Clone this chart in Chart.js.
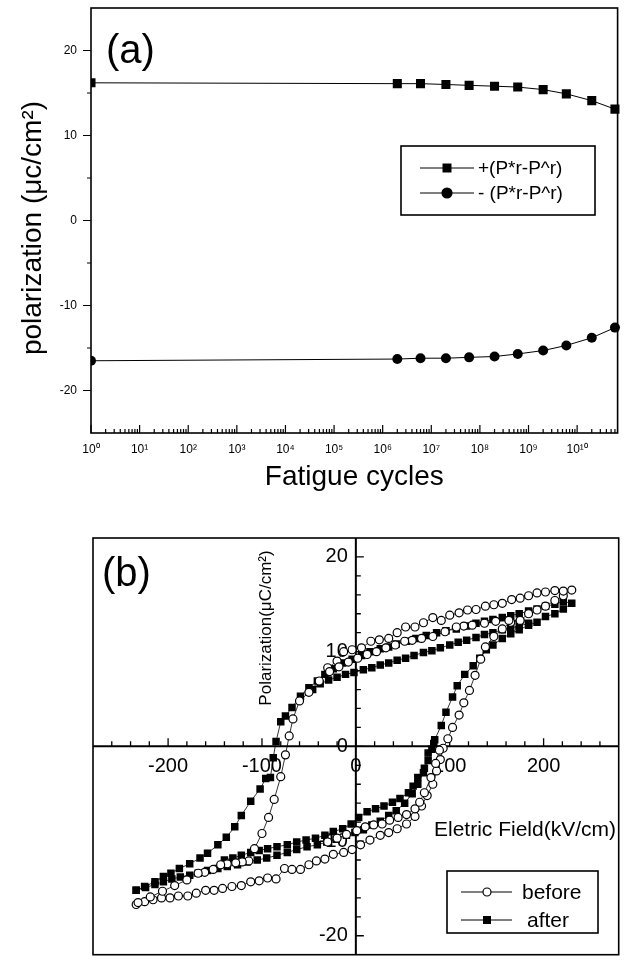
<!DOCTYPE html>
<html><head><meta charset="utf-8">
<script src="https://cdn.jsdelivr.net/npm/chart.js@4.4.1/dist/chart.umd.min.js"></script>
<style>
html,body{margin:0;padding:0;background:#fff;}
#wrap{position:relative;width:624px;height:960px;overflow:hidden;background:#fff;}
canvas{position:absolute;left:0;}
#ca{top:0;} #cb{top:500px;}
</style></head><body>
<div id="wrap"><canvas id="ca" width="624" height="500"></canvas><canvas id="cb" width="624" height="460"></canvas></div>
<script>
const FONT = "'Liberation Sans', Arial, Helvetica, sans-serif";

// ---------- (a) fatigue data ----------
const fatigueCycles = [1, 2e6, 6e6, 2e7, 6e7, 2e8, 6e8, 2e9, 6e9, 2e10, 6e10];
const plusPr  = [16.2, 16.1, 16.1, 16.0, 15.9, 15.8, 15.7, 15.4, 14.9, 14.1, 13.1];
const minusPr = [-16.5, -16.3, -16.2, -16.2, -16.1, -16.0, -15.7, -15.3, -14.7, -13.8, -12.6];
const fatigueTicks = [1, 1e1, 1e2, 1e3, 1e4, 1e5, 1e6, 1e7, 1e8, 1e9, 1e10];
const polTicksA = [-20, -10, 0, 10, 20];
const polMinorA = [-15, -5, 5, 15];
const labelsA = ['+(P*r-P^r)', '- (P*r-P^r)'];

// ---------- (b) hysteresis data (null = break between traces) ----------
const beforeField = [
 -234,-225,-216,-207,-198,-189,-179,-170,-160,-151,-142,-132,-122,-112,-103,-94,-85,-76,-68,-59,
 -50,-42,-33,-24,-13,-4,5,15,26,35,44,54,63,70,76,82,86,90,93,98,
 103,110,115,121,127,133,138,147,156,165,175,184,193,202,212,221,230,
 221,212,202,193,184,175,166,156,147,138,128,119,110,100,91,82,72,63,53,44,
 35,25,16,6,-4,-13,-20,-30,-39,-50,-60,-67,-71,-75,-80,-87,-93,-100,-108,-114,
 -121,-128,-137,-144,-152,-161,-168,-180,-193,-206,-219,-232,
 null,
 -30,-20,-10,1,10,19,28,36,45,54,63,68,73,80,85,89,
 null,
 175,163,149,137,124,115,107,95,82,70,60,52,42,32,22,12,2,-8,-18,-28
];
const beforePol = [
 -16.7,-16.4,-16.2,-16.0,-16.0,-15.8,-15.8,-15.5,-15.2,-15.2,-15.0,-14.8,-14.7,-14.3,-14.2,-13.9,-14.0,-12.9,-13.0,-13.0,
 -12.5,-12.1,-11.9,-11.4,-11.2,-10.9,-10.4,-9.9,-9.4,-9.1,-8.7,-8.2,-7.4,-6.3,-5.2,-4.0,-2.6,-1.4,-0.2,0.8,
 2.0,3.3,4.6,5.9,7.5,9.2,10.5,11.6,12.4,13.1,13.3,14.0,14.4,14.8,15.4,15.9,16.5,
 16.4,16.45,16.3,16.2,15.9,15.65,15.5,15.1,14.95,14.8,14.45,14.4,14.1,13.85,13.3,13.6,13.05,12.6,12.6,12.0,
 11.4,11.25,11.1,10.4,10.2,10.0,9.0,8.3,6.9,5.7,4.8,2.9,1.1,-0.9,-3.2,-5.6,-7.5,-9.2,-10.8,-12.1,
 -12.2,-12.3,-12.4,-12.5,-13.0,-13.3,-13.4,-14.1,-14.7,-15.3,-15.9,-16.5,
 null,
 -10.1,-9.7,-9.3,-8.9,-8.5,-8.3,-8.2,-7.8,-7.5,-7.2,-6.6,-5.9,-4.9,-3.3,-1.8,-0.4,
 null,
 13.3,13.3,13.2,13.0,12.8,12.7,12.6,12.1,11.6,11.4,11.2,11.1,10.7,10.4,10.0,9.7,9.3,8.9,8.4,7.9
];
const afterField = [
 -234,-224,-214,-205,-196,-187,-177,-168,-158,-147,-137,-126,-116,-105,-95,-84,-73,-63,-52,-41,
 -31,-21,-10,-1,8,17,26,35,43,52,60,66,72,77,81,84,91,96,103,108,
 116,125,132,139,146,156,165,174,184,193,202,212,221,230,
 221,212,202,193,184,174,165,156,146,137,128,118,107,96,86,75,64,54,43,35,
 26,15,6,-4,-14,-24,-33,-41,-50,-59,-68,-75,-80,-85,-88,-91,-96,-102,-112,-122,
 -129,-138,-147,-158,-166,-177,-188,-197,-205,-214,-225,-234,
 null,
 -140,-131,-122,-112,-103,-94,-84,-73,-63,-53,-43,-33,-24,-14,-5,3,12,21,30,39,47,56,61,66,73,77,83,
 null,
 184,174,165,156,146,137,128,118,109,100,90,81,72,62,53,44,35,26,17,8,-2,-11,-20,-29,-38,-46
];
const afterPol = [
 -15.2,-14.9,-14.6,-14.3,-14.0,-13.8,-13.6,-13.4,-13.1,-12.9,-12.7,-12.5,-12.2,-12.0,-11.8,-11.5,-11.2,-10.9,-10.6,-10.4,
 -10.1,-9.8,-9.4,-9.1,-8.8,-8.3,-7.9,-7.3,-6.8,-6.0,-5.0,-4.0,-2.8,-1.5,-0.3,0.7,2.2,3.6,5.2,6.4,
 7.6,8.5,9.3,10.2,10.7,11.4,11.9,12.3,12.8,13.1,13.7,14.0,14.5,15.1,
 15.3,15.0,14.8,14.5,14.3,14.0,13.8,13.6,13.4,13.2,13.0,12.7,12.4,12.2,12.0,11.7,11.4,11.1,10.8,10.5,
 10.3,10.0,9.6,9.2,8.8,8.2,7.6,6.9,6.2,5.3,4.1,3.2,2.6,0.5,-1.2,-3.3,-3.4,-4.5,-5.8,-7.3,
 -8.5,-9.6,-10.4,-11.3,-11.8,-12.4,-12.9,-13.4,-13.75,-14.3,-14.8,-15.2,
 null,
 -12.0,-11.8,-11.5,-11.2,-11.0,-10.8,-10.6,-10.4,-10.1,-9.9,-9.7,-9.4,-9.0,-8.7,-8.2,-7.5,-6.9,-6.6,-6.3,-5.9,-5.5,-4.9,-4.2,-3.3,-2.3,-0.7,0.3,
 null,
 13.0,12.7,12.5,12.3,12.0,11.8,11.5,11.2,11.0,10.7,10.4,10.1,9.9,9.6,9.3,9.1,8.8,8.6,8.3,8.1,7.8,7.6,7.3,7.0,6.6,6.0
];
const fieldTicks = [-200, -100, 0, 100, 200];
const polTicksB = [-20, -10, 0, 10, 20];
const labelsB = ['before', 'after'];

// ---------- helpers ----------
const SUP = {'0':'\u2070','1':'\u00B9','2':'\u00B2','3':'\u00B3','4':'\u2074','5':'\u2075','6':'\u2076','7':'\u2077','8':'\u2078','9':'\u2079'};
function supStr(n){ return String(n).split('').map(c=>SUP[c]).join(''); }
function pairs(xs, ys){ return xs.map((x,i)=> (x===null||ys[i]===null) ? {x:null,y:null} : {x:x, y:ys[i]}); }
function marker(ctx, style, x, y, r, fill){
  ctx.beginPath();
  if (style==='rect'){ ctx.rect(x-r, y-r, 2*r, 2*r); ctx.fillStyle='#000'; ctx.fill(); }
  else { ctx.arc(x, y, r, 0, Math.PI*2); ctx.fillStyle = fill; ctx.fill(); ctx.lineWidth=1.2; ctx.strokeStyle='#000'; ctx.stroke(); }
}

// ---------- chart (a) ----------
const plugA = {
  id:'plugA',
  beforeDatasetsDraw(chart){
    const {ctx, chartArea:a, scales:{x, y}} = chart;
    ctx.save();
    ctx.strokeStyle='#000'; ctx.lineWidth=1.6;
    ctx.strokeRect(a.left, a.top, a.right-a.left, a.bottom-a.top);
    ctx.lineWidth=1.2; ctx.beginPath();
    polTicksA.forEach(v=>{ const py=y.getPixelForValue(v); ctx.moveTo(a.left-8,py); ctx.lineTo(a.left,py); });
    polMinorA.forEach(v=>{ const py=y.getPixelForValue(v); ctx.moveTo(a.left-4,py); ctx.lineTo(a.left,py); });
    fatigueTicks.forEach(v=>{
      const px=x.getPixelForValue(v); ctx.moveTo(px,a.bottom); ctx.lineTo(px,a.bottom-8);
      for (let m=2;m<=9;m++){ const w=v*m; if (w<=x.max){ const q=x.getPixelForValue(w); ctx.moveTo(q,a.bottom); ctx.lineTo(q,a.bottom-4);} }
    });
    ctx.stroke();
    ctx.fillStyle='#000'; ctx.textBaseline='middle';
    ctx.font = '28px '+FONT; ctx.textAlign='center';
    ctx.fillText('Fatigue cycles', (a.left+a.right)/2, 477);
    ctx.save(); ctx.translate(33, 228); ctx.rotate(-Math.PI/2); ctx.fillText('polarization (\u03BCc/cm\u00B2)', 0, 0); ctx.restore();
    ctx.font = '40px '+FONT; ctx.textAlign='left';
    ctx.fillText('(a)', 106, 52);
    ctx.restore();
  },
  afterDatasetsDraw(chart){
    const ctx = chart.ctx;
    ctx.save();
    ctx.fillStyle='#fff'; ctx.fillRect(401,146,194,69);
    ctx.strokeStyle='#000'; ctx.lineWidth=1.6; ctx.strokeRect(401,146,194,69);
    const ys=[168,193], styles=['rect','circle'];
    chart.data.datasets.forEach((ds,i)=>{
      ctx.lineWidth=1; ctx.strokeStyle='#000';
      ctx.beginPath(); ctx.moveTo(420,ys[i]); ctx.lineTo(474,ys[i]); ctx.stroke();
      marker(ctx, styles[i], 447, ys[i], styles[i]==='rect'?4.5:5, '#000');
      ctx.fillStyle='#000'; ctx.font='19px '+FONT; ctx.textAlign='left'; ctx.textBaseline='middle';
      ctx.fillText(ds.label, 478, ys[i]+1);
    });
    ctx.restore();
  }
};

new Chart(document.getElementById('ca'), {
  type:'scatter',
  data:{ datasets:[
    { label: labelsA[0], data: pairs(fatigueCycles, plusPr), showLine:true, borderColor:'#000', borderWidth:1,
      pointStyle:'rect', pointRadius:6.4, pointBackgroundColor:'#000', pointBorderColor:'#000', pointBorderWidth:0,
      clip:{left:0, top:0, right:8, bottom:0} },
    { label: labelsA[1], data: pairs(fatigueCycles, minusPr), showLine:true, borderColor:'#000', borderWidth:1,
      pointStyle:'circle', pointRadius:5, pointBackgroundColor:'#000', pointBorderColor:'#000', pointBorderWidth:0,
      clip:{left:0, top:0, right:8, bottom:0} }
  ]},
  options:{
    responsive:false, animation:false, devicePixelRatio:1, events:[],
    layout:{padding:{top:8, right:1, left:0, bottom:0}},
    plugins:{legend:{display:false}, tooltip:{enabled:false}},
    scales:{
      x:{ type:'logarithmic', min:1, max:6.8e10,
          grid:{display:false, drawTicks:false}, border:{display:false},
          afterBuildTicks(s){ s.ticks = fatigueTicks.map(v=>({value:v})); },
          afterFit(s){ s.height = 67; s.paddingLeft = 0; s.paddingRight = 0; },
          ticks:{ autoSkip:false, maxRotation:0, padding:9, color:'#000', font:{family:FONT, size:12},
                  callback:(v)=> '10' + supStr(Math.round(Math.log10(v))) } },
      y:{ type:'linear', min:-25, max:25,
          grid:{display:false, drawTicks:false}, border:{display:false},
          afterBuildTicks(s){ s.ticks = polTicksA.map(v=>({value:v})); },
          afterFit(s){ s.width = 91; s.paddingTop = 0; s.paddingBottom = 0; },
          ticks:{ padding:14, color:'#000', font:{family:FONT, size:12} } }
    }
  },
  plugins:[plugA]
});

// ---------- chart (b) ----------
const plugB = {
  id:'plugB',
  beforeDatasetsDraw(chart){
    const {ctx, chartArea:a, scales:{x, y}} = chart;
    const x0 = x.getPixelForValue(0), y0 = y.getPixelForValue(0);
    ctx.save();
    ctx.fillStyle='#000'; ctx.textBaseline='middle';
    ctx.font='20px '+FONT; ctx.textAlign='center';
    fieldTicks.forEach(v=> ctx.fillText(String(v), x.getPixelForValue(v), y0+20));
    ctx.textAlign='right';
    polTicksB.forEach(v=> ctx.fillText(String(v), x0-8, y.getPixelForValue(v)));
    ctx.strokeStyle='#000'; ctx.lineWidth=1.6;
    ctx.strokeRect(a.left, a.top, a.right-a.left, a.bottom-a.top);
    ctx.lineWidth=2; ctx.beginPath();
    ctx.moveTo(a.left,y0); ctx.lineTo(a.right,y0); ctx.moveTo(x0,a.top); ctx.lineTo(x0,a.bottom); ctx.stroke();
    ctx.lineWidth=1.3; ctx.beginPath();
    for (let v=-260; v<=260; v+=20){ const px=x.getPixelForValue(v); const len=fieldTicks.includes(v)?8:5; ctx.moveTo(px,y0); ctx.lineTo(px,y0-len); }
    for (let v=-20; v<=20; v+=2){ const py=y.getPixelForValue(v); const len=polTicksB.includes(v)?8:5; ctx.moveTo(x0,py); ctx.lineTo(x0+len,py); }
    ctx.stroke();
    ctx.font='40px '+FONT; ctx.textAlign='left';
    ctx.fillText('(b)', 102, 75);
    ctx.font='21px '+FONT;
    ctx.fillText('Eletric Field(kV/cm)', 434, 330);
    ctx.font='17px '+FONT; ctx.textAlign='center';
    ctx.save(); ctx.translate(266, 128); ctx.rotate(-Math.PI/2); ctx.fillText('Polarization(\u03BCC/cm\u00B2)', 0, 0); ctx.restore();
    ctx.restore();
  },
  afterDatasetsDraw(chart){
    const ctx = chart.ctx;
    ctx.save();
    ctx.fillStyle='#fff'; ctx.fillRect(447,371,151,62);
    ctx.strokeStyle='#000'; ctx.lineWidth=1.6; ctx.strokeRect(447,371,151,62);
    const ys=[392,420], styles=['circle','rect'], tx=[522,527];
    chart.data.datasets.forEach((ds,i)=>{
      ctx.lineWidth=1; ctx.strokeStyle='#000';
      ctx.beginPath(); ctx.moveTo(461,ys[i]); ctx.lineTo(512,ys[i]); ctx.stroke();
      marker(ctx, styles[i], 487, ys[i], 4, '#fff');
      ctx.fillStyle='#000'; ctx.font='21px '+FONT; ctx.textAlign='left'; ctx.textBaseline='middle';
      ctx.fillText(ds.label, tx[i], ys[i]+1);
    });
    ctx.restore();
  }
};

new Chart(document.getElementById('cb'), {
  type:'scatter',
  data:{ datasets:[
    { label: labelsB[0], data: pairs(beforeField, beforePol), showLine:true, borderColor:'#000', borderWidth:0.8,
      pointStyle:'circle', pointRadius:4, pointBackgroundColor:'#fff', pointBorderColor:'#000', pointBorderWidth:1.2 },
    { label: labelsB[1], data: pairs(afterField, afterPol), showLine:true, borderColor:'#000', borderWidth:0.8,
      pointStyle:'rect', pointRadius:5.3, pointBackgroundColor:'#000', pointBorderColor:'#000', pointBorderWidth:0 }
  ]},
  options:{
    responsive:false, animation:false, devicePixelRatio:1, events:[],
    layout:{padding:{top:38, right:1, left:93, bottom:1}},
    plugins:{legend:{display:false}, tooltip:{enabled:false}},
    scales:{
      x:{ type:'linear', min:-280, max:280, position:{y:0},
          grid:{display:false, drawTicks:false}, border:{display:false}, ticks:{display:false} },
      y:{ type:'linear', min:-22, max:22, position:{x:0},
          grid:{display:false, drawTicks:false}, border:{display:false}, ticks:{display:false} }
    }
  },
  plugins:[plugB]
});
</script>
</body></html>
